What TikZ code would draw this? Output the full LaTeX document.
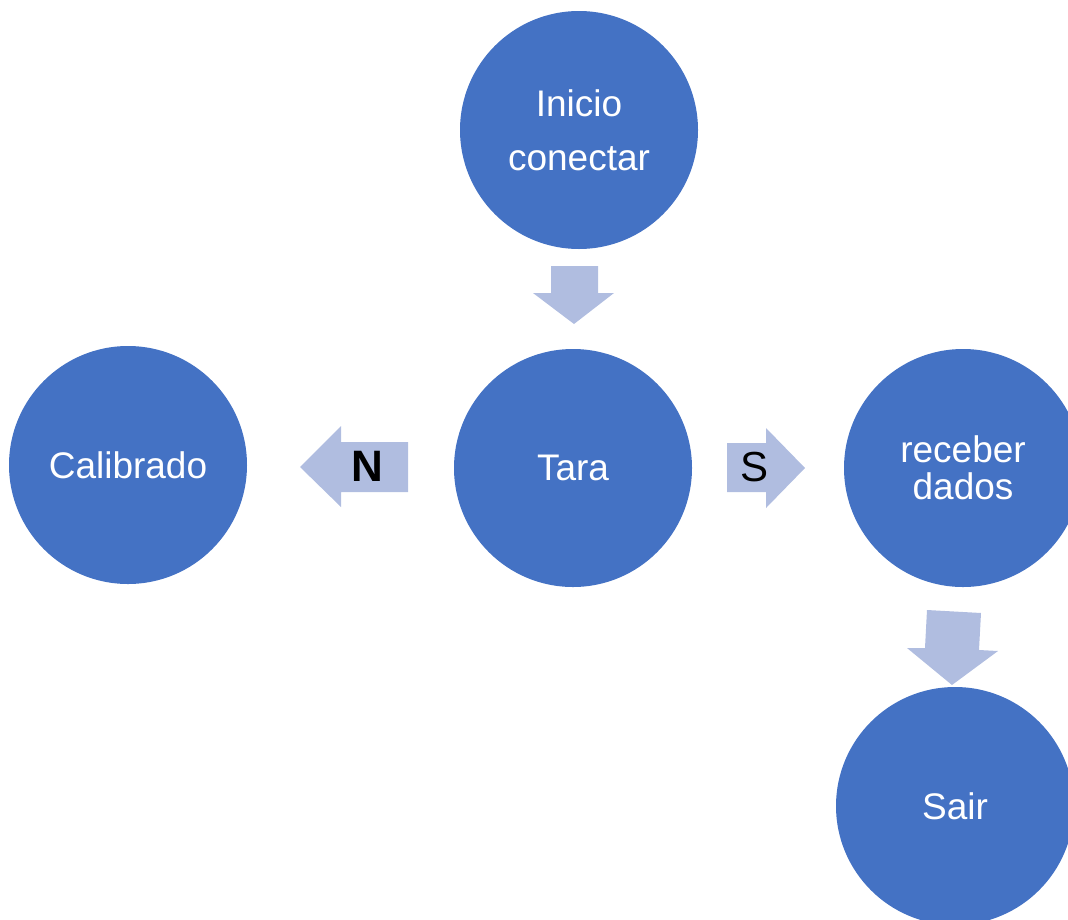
\documentclass[tikz,border=0pt]{standalone}
\usepackage{fontspec}
\setmainfont{Liberation Sans}
\definecolor{circblue}{RGB}{68,114,196}
\definecolor{arrblue}{RGB}{176,189,224}
\begin{document}
\begin{tikzpicture}[x=1pt,y=-1pt,
  stepcircle/.style={circle,fill=circblue,draw=none,minimum size=238pt,inner sep=0pt,text=white,align=center,font=\fontsize{37}{37}\selectfont},
  blockarrow/.style={fill=arrblue,draw=none}]
\useasboundingbox (0,0) rectangle (1068,919);
\clip (0,0) rectangle (1068,919);
\node[stepcircle,font=\fontsize{37}{54}\selectfont] (inicio) at (579,130) {Inicio\\conectar};
\node[stepcircle] (tara) at (573,468) {Tara};
\node[stepcircle] (calib) at (128,465) {Calibrado};
\node[stepcircle] (receber) at (963,468) {receber\\dados};
\node[stepcircle] (sair) at (955,806) {Sair};
% arrow inicio -> tara
\fill[blockarrow] (551,266) -- (598,266) -- (598,293) -- (614,293) -- (574,324) -- (533,293) -- (551,293) -- cycle;
% arrow tara -> calibrado (N)
\fill[blockarrow] (408,442) -- (341,442) -- (341,426) -- (300,467) -- (341,507) -- (341,492) -- (408,492) -- cycle;
\node[font=\fontsize{44}{44}\selectfont\bfseries,text=black] (nlab) at (367,466) {N};
% arrow tara -> receber (S)
\fill[blockarrow] (727,443) -- (766,443) -- (766,428) -- (805,468) -- (766,508) -- (766,492) -- (727,492) -- cycle;
\node[font=\fontsize{42}{42}\selectfont,text=black] (slab) at (754,467) {S};
% arrow receber -> sair
\fill[blockarrow] (927,610) -- (981,613) -- (979,650) -- (998,651) -- (952,685) -- (907,648) -- (925,648) -- cycle;
\end{tikzpicture}
\end{document}
